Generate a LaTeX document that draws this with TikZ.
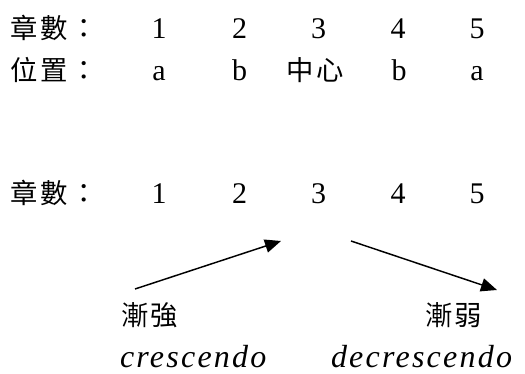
\documentclass[tikz,border=0pt]{standalone}
\usepackage{fontspec}
\setmainfont{Liberation Serif}
\newfontfamily\cjk[LetterSpace=9]{Noto Sans CJK TC}
\newfontfamily\itl[LetterSpace=7]{Liberation Serif}
\usetikzlibrary{arrows.meta}
\begin{document}
\begin{tikzpicture}[x=0.75pt,y=-0.75pt,
  every node/.style={inner sep=0pt,outer sep=0pt},
  lat/.style={anchor=base,font=\fontsize{22.5pt}{26pt}\selectfont},
  cj/.style={anchor=base west,font=\fontsize{20.5pt}{24pt}\selectfont\cjk},
  cjc/.style={anchor=base,font=\fontsize{20.5pt}{24pt}\selectfont\cjk},
  ital/.style={anchor=base west,font=\fontsize{24pt}{28pt}\selectfont\itl\itshape},
  arr/.style={line width=1.1pt,-{Triangle[length=12pt,width=10pt]}}]
\useasboundingbox (0,0) rectangle (525,374);
% row 1
\node[cj] (l1) at (11,39) {章數：};
\node[lat] (c1) at (159,39) {1};
\node[lat] (c2) at (239.5,39) {2};
\node[lat] (c3) at (318.6,39) {3};
\node[lat] (c4) at (398,39) {4};
\node[lat] (c5) at (477,39) {5};
% row 2
\node[cj] (l2) at (11,81) {位置：};
\node[lat] (p1) at (159,81) {a};
\node[lat] (p2) at (239.5,81) {b};
\node[cjc] (p3) at (315,81) {中心};
\node[lat] (p4) at (399,81) {b};
\node[lat] (p5) at (477,81) {a};
% row 3
\node[cj] (l3) at (11,204) {章數：};
\node[lat] (d1) at (159,204) {1};
\node[lat] (d2) at (239.5,204) {2};
\node[lat] (d3) at (318.6,204) {3};
\node[lat] (d4) at (398,204) {4};
\node[lat] (d5) at (477,204) {5};
% arrows
\coordinate (a1s) at (135,289);
\coordinate (a1e) at (281,241);
\coordinate (a2s) at (351,241);
\coordinate (a2e) at (497,290);
\draw[arr] (a1s) -- (a1e);
\draw[arr] (a2s) -- (a2e);
% labels
\node[cj] (t1) at (121,325) {漸強};
\node[cj] (t2) at (425,325) {漸弱};
\node[ital] (e1) at (120,367) {crescendo};
\node[ital] (e2) at (331,367) {decrescendo};
\end{tikzpicture}
\end{document}
